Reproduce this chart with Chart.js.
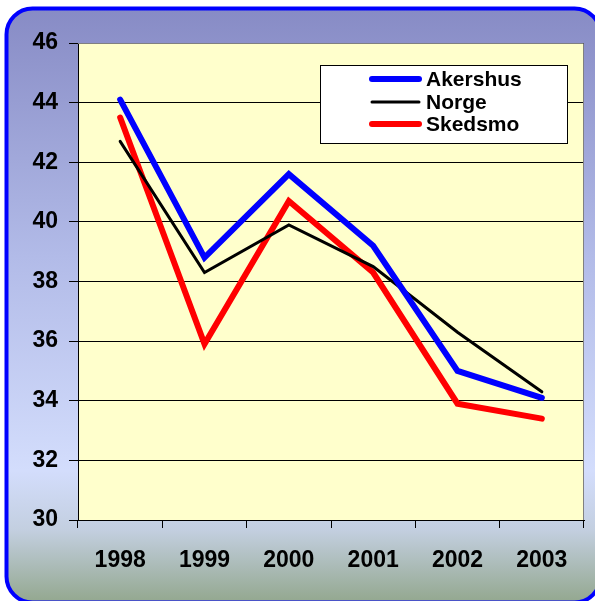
<!DOCTYPE html>
<html lang="en">
<head>
  <meta charset="UTF-8" />
  <title>Akershus / Norge / Skedsmo</title>
  <script src="https://cdn.jsdelivr.net/npm/chart.js"></script>
  <style>
    body { margin: 0; background: #ffffff; }
    #wrap { width: 595px; height: 601px; position: relative; }
  </style>
</head>
<body>
  <div id="wrap"><canvas id="myChart" width="595" height="601"></canvas></div>

  <script>
    // data
    const years = ['1998', '1999', '2000', '2001', '2002', '2003'];
    const akershus = [44.1, 38.8, 41.6, 39.2, 35.0, 34.1];
    const norge = [42.7, 38.3, 39.9, 38.5, 36.3, 34.3];
    const skedsmo = [43.5, 35.9, 40.7, 38.3, 33.9, 33.4];
    const yTicks = [30, 32, 34, 36, 38, 40, 42, 44, 46];

    const FONT = '"Liberation Sans", Arial, sans-serif';

    // frame, gradient and plot fill
    const framePlugin = {
      id: 'frame',
      beforeDraw(chart) {
        const c = chart.ctx;
        const a = chart.chartArea;
        c.save();
        const g = c.createLinearGradient(0, 8, 0, 601);
        g.addColorStop(0, '#878bc5');
        g.addColorStop(0.42, '#b2bbe8');
        g.addColorStop(0.78, '#d3ddfc');
        g.addColorStop(0.88, '#c3cfe0');
        g.addColorStop(1, '#94a890');
        c.beginPath();
        c.roundRect(6.5, 8.5, 594, 594, 26);
        c.fillStyle = g;
        c.fill();
        c.lineWidth = 4;
        c.strokeStyle = '#0000ff';
        c.stroke();
        c.fillStyle = '#ffffcc';
        c.fillRect(a.left, a.top, a.right - a.left, a.bottom - a.top);
        c.restore();
      },
      afterDatasetsDraw(chart) {
        const c = chart.ctx;
        const a = chart.chartArea;
        c.save();
        c.strokeStyle = '#808080';
        c.lineWidth = 1;
        c.beginPath();
        c.moveTo(a.left, a.top + 0.5);
        c.lineTo(a.right - 0.5, a.top + 0.5);
        c.lineTo(a.right - 0.5, a.bottom);
        c.stroke();
        c.restore();
      }
    };

    // boxed legend in the upper right
    const boxLegend = {
      id: 'boxLegend',
      afterDraw(chart) {
        const c = chart.ctx;
        c.save();
        c.fillStyle = '#ffffff';
        c.fillRect(320, 65, 248, 79);
        c.strokeStyle = '#000000';
        c.lineWidth = 1;
        c.strokeRect(320.5, 65.5, 247, 78);
        c.font = 'bold 21px ' + FONT;
        c.textBaseline = 'middle';
        const rows = [79, 102, 124];
        chart.data.datasets.forEach((ds, i) => {
          c.strokeStyle = ds.borderColor;
          c.lineWidth = ds.borderWidth;
          c.lineCap = 'round';
          c.beginPath();
          c.moveTo(372, rows[i]);
          c.lineTo(419, rows[i]);
          c.stroke();
          c.fillStyle = '#000000';
          c.fillText(ds.label, 426, rows[i] + 1);
        });
        c.restore();
      }
    };

    const ctx = document.getElementById('myChart').getContext('2d');
    const myChart = new Chart(ctx, {
      type: 'line',
      data: {
        labels: years,
        datasets: [
          { label: 'Akershus', data: akershus, borderColor: '#0000ff', borderWidth: 6 },
          { label: 'Norge', data: norge, borderColor: '#000000', borderWidth: 3 },
          { label: 'Skedsmo', data: skedsmo, borderColor: '#ff0000', borderWidth: 6 }
        ]
      },
      options: {
        responsive: false,
        animation: false,
        devicePixelRatio: 1,
        layout: { padding: { top: 43, right: 11, left: 0, bottom: 0 } },
        elements: {
          point: { radius: 0 },
          line: { tension: 0, borderJoinStyle: 'miter', borderCapStyle: 'round' }
        },
        plugins: {
          legend: { display: false },
          tooltip: { enabled: false }
        },
        scales: {
          x: {
            offset: true,
            grid: { offset: true, drawOnChartArea: false, tickLength: 8, color: '#000000' },
            border: { color: '#000000' },
            ticks: { padding: 19, color: '#000000', font: { family: FONT, size: 23, weight: 'bold' } },
            afterFit: s => { s.height = 81; }
          },
          y: {
            min: 30,
            max: 46,
            afterBuildTicks: s => { s.ticks = yTicks.map(v => ({ value: v })); },
            grid: { color: '#000000', tickLength: 9 },
            border: { color: '#000000' },
            ticks: { padding: 11, color: '#000000', font: { family: FONT, size: 23, weight: 'bold' } },
            afterFit: s => { s.width = 78; }
          }
        }
      },
      plugins: [framePlugin, boxLegend]
    });
  </script>
</body>
</html>
